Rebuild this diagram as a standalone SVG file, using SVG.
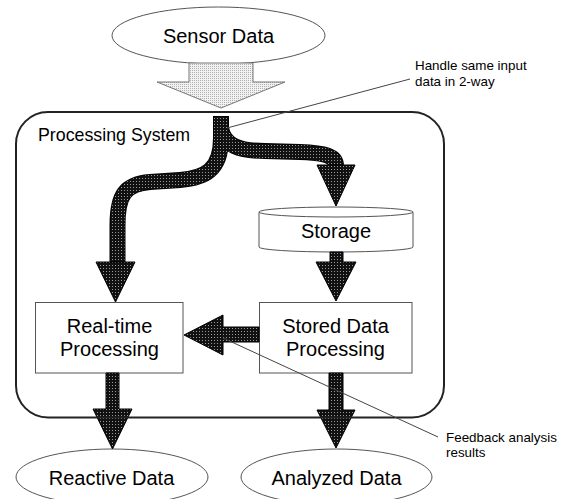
<svg xmlns="http://www.w3.org/2000/svg" width="569" height="499" viewBox="0 0 569 499">
<defs>
<pattern id="dk" width="3" height="3" patternUnits="userSpaceOnUse"><rect width="3" height="3" fill="#111"/><rect x="1" y="1" width="1" height="1" fill="#9a9a9a"/></pattern>
<pattern id="lt" width="2" height="2" patternUnits="userSpaceOnUse"><rect width="2" height="2" fill="#f2f2f2"/><rect x="0" y="0" width="1" height="1" fill="#b0b0b0"/></pattern>
</defs>
<style>
text{font-family:"Liberation Sans",Arial,sans-serif;fill:#000;}
.lbl{font-size:20px;text-anchor:middle;}
.note{font-size:13.4px;}
.shape{fill:#fff;stroke:#555;stroke-width:1;}
.head{fill:url(#dk);stroke:#000;stroke-width:1;}
.outl{fill:none;stroke:#000;stroke-linecap:butt;stroke-linejoin:round;}
.inl{fill:none;stroke:url(#dk);stroke-linecap:butt;stroke-linejoin:round;}
.lead{fill:none;stroke:#444;stroke-width:1;}
</style>
<rect width="569" height="499" fill="#fff"/>

<g id="sensor-data">
<ellipse class="shape" cx="218.5" cy="35.5" rx="106.5" ry="28.5"/>
<text class="lbl" x="218.5" y="43">Sensor Data</text>
</g>

<g id="processing-system">
<rect x="16" y="112" width="428" height="305.5" rx="32" ry="32" fill="#fff" stroke="none"/>
<text x="38" y="141" style="font-size:17.8px">Processing System</text>
</g>

<g id="storage">
<path class="shape" d="M259,212 L259,247 A77,5 0 0 0 413,247 L413,212"/>
<ellipse class="shape" cx="336" cy="212" rx="77" ry="5"/>
<text class="lbl" x="336" y="238">Storage</text>
</g>

<g id="realtime-processing">
<rect class="shape" x="35.5" y="302.5" width="147.5" height="70.5"/>
<text class="lbl" x="109.5" y="333">Real-time</text>
<text class="lbl" x="109.5" y="356">Processing</text>
</g>

<g id="stored-data-processing">
<rect class="shape" x="259.5" y="302.5" width="152.5" height="70.5"/>
<text class="lbl" x="335.5" y="333">Stored Data</text>
<text class="lbl" x="335.5" y="356">Processing</text>
</g>

<g id="reactive-data">
<ellipse class="shape" cx="112" cy="477" rx="96" ry="28"/>
<text class="lbl" x="111.5" y="485">Reactive Data</text>
</g>

<g id="analyzed-data">
<ellipse class="shape" cx="336.5" cy="477" rx="95.5" ry="28"/>
<text class="lbl" x="336.5" y="485">Analyzed Data</text>
</g>

<g id="connectors">
<polygon points="189,63 253,63 253,82 285,82 221,108 157,82 189,82" fill="url(#lt)" stroke="#777" stroke-width="1"/>
<path class="outl" stroke-width="16" d="M221,116 L221,138 C221,170 205,178 180,180 L150,182 C125,184 117.5,195 117.5,225 L117.5,263"/>
<path class="outl" stroke-width="16" d="M221,128 C224,146 240,151 265,151 L300,152 C325,153 336,156 336,166"/>
<path class="inl" stroke-width="14" d="M221,117 L221,138 C221,170 205,178 180,180 L150,182 C125,184 117.5,195 117.5,225 L117.5,263"/>
<path class="inl" stroke-width="14" d="M221,128 C224,146 240,151 265,151 L300,152 C325,153 336,156 336,166"/>
<polygon class="head" points="96,262 135,262 115.5,302"/>
<polygon class="head" points="317,165 355,165 336,206"/>
<polygon class="head" points="330,252 343,252 343,262 356,262 336,301 316,262 330,262"/>
<polygon class="head" points="329,373 343,373 343,410 355,410 336,448 317,410 329,410"/>
<polygon class="head" points="106,373 119,373 119,409 132,409 112.5,449 93,409 106,409"/>
<polygon class="head" points="259,327 223,327 223,315 184,335 223,355 223,342 259,342"/>
<rect x="16" y="112" width="428" height="305.5" rx="32" ry="32" fill="none" stroke="#222" stroke-width="2"/>
<line class="lead" x1="227" y1="128" x2="410" y2="79"/>
<line class="lead" x1="223" y1="338" x2="438" y2="437"/>
</g>

<g id="notes">
<text class="note" x="415" y="70">Handle same input</text>
<text class="note" x="415" y="86">data in 2-way</text>
<text class="note" x="446" y="442">Feedback analysis</text>
<text class="note" x="446" y="457">results</text>
</g>
</svg>
